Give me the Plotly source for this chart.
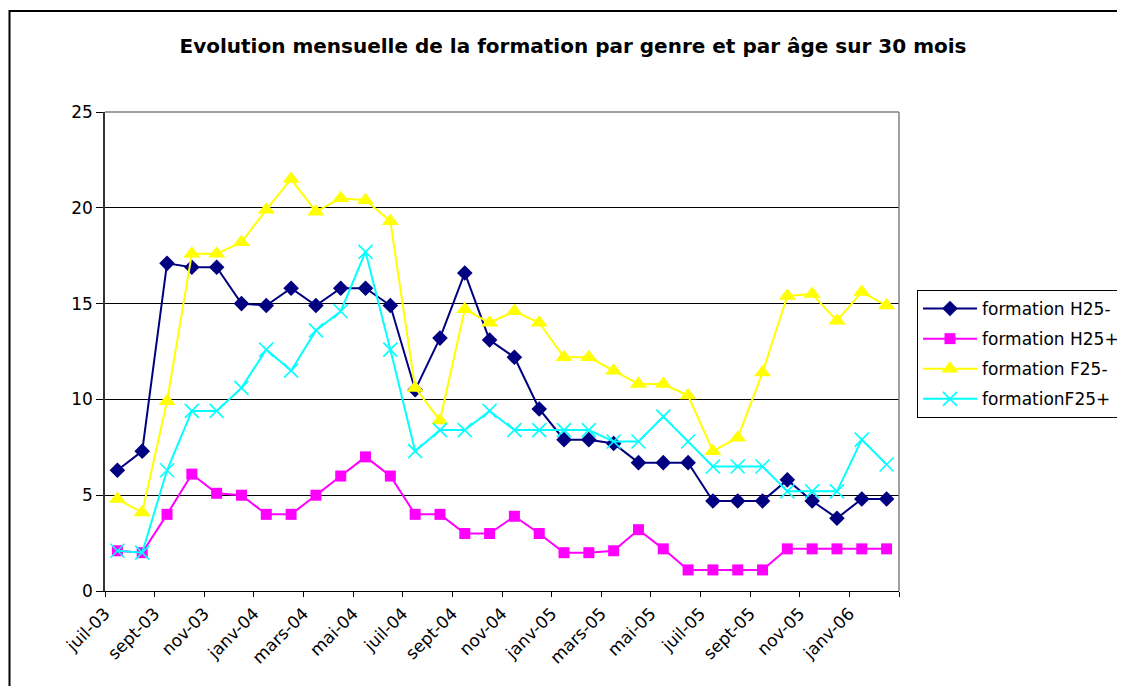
import plotly.graph_objects as go

months = ["juil-03", "août-03", "sept-03", "oct-03", "nov-03", "déc-03",
          "janv-04", "févr-04", "mars-04", "avr-04", "mai-04", "juin-04",
          "juil-04", "août-04", "sept-04", "oct-04", "nov-04", "déc-04",
          "janv-05", "févr-05", "mars-05", "avr-05", "mai-05", "juin-05",
          "juil-05", "août-05", "sept-05", "oct-05", "nov-05", "déc-05",
          "janv-06", "févr-06"]

h25_minus = [6.3, 7.3, 17.1, 16.9, 16.9, 15.0, 14.9, 15.8, 14.9, 15.8, 15.8, 14.9,
             10.5, 13.2, 16.6, 13.1, 12.2, 9.5, 7.9, 7.9, 7.7, 6.7, 6.7, 6.7,
             4.7, 4.7, 4.7, 5.8, 4.7, 3.8, 4.8, 4.8]
h25_plus = [2.1, 2.0, 4.0, 6.1, 5.1, 5.0, 4.0, 4.0, 5.0, 6.0, 7.0, 6.0,
            4.0, 4.0, 3.0, 3.0, 3.9, 3.0, 2.0, 2.0, 2.1, 3.2, 2.2, 1.1,
            1.1, 1.1, 1.1, 2.2, 2.2, 2.2, 2.2, 2.2]
f25_minus = [4.8, 4.1, 9.9, 17.6, 17.6, 18.2, 19.9, 21.5, 19.8, 20.5, 20.4, 19.3,
             10.6, 8.9, 14.7, 14.0, 14.6, 14.0, 12.2, 12.2, 11.5, 10.8, 10.8, 10.2,
             7.3, 8.0, 11.4, 15.4, 15.5, 14.1, 15.6, 14.9]
f25_plus = [2.1, 2.0, 6.3, 9.4, 9.4, 10.6, 12.6, 11.5, 13.6, 14.6, 17.7, 12.6,
            7.3, 8.4, 8.4, 9.4, 8.4, 8.4, 8.4, 8.4, 7.8, 7.8, 9.1, 7.8,
            6.5, 6.5, 6.5, 5.2, 5.2, 5.2, 7.9, 6.6]

series_names = ["formation H25-", "formation H25+", "formation F25-", "formationF25+"]
series_values = [h25_minus, h25_plus, f25_minus, f25_plus]
y_ticks = [0, 5, 10, 15, 20, 25]
title_text = "Evolution mensuelle de la formation par genre et par âge sur 30 mois"

colors = ["#000080", "#FF00FF", "#FFFF00", "#00FFFF"]
symbols = ["diamond", "square", "triangle-up", "x-thin"]
sizes = [12, 11, 15, 14]

FONT = "DejaVu Sans"

x_pos = [i + 0.5 for i in range(len(months))]

fig = go.Figure()
for k, (name, vals) in enumerate(zip(series_names, series_values)):
    marker = dict(symbol=symbols[k], size=sizes[k], color=colors[k])
    if symbols[k] == "x-thin":
        marker["line"] = dict(color=colors[k], width=1.6)
    else:
        marker["line"] = dict(width=0)
    fig.add_trace(go.Scatter(
        x=x_pos, y=vals, name=name, mode="lines+markers",
        line=dict(color=colors[k], width=2),
        marker=marker,
        hovertext=months, hoverinfo="text+y+name",
        legendgroup=name,
    ))

tickvals = list(range(0, len(months) + 1, 2))
ticktext = months[::2] + [""]

# page body has an 8px margin: work in screen pixels and convert
OFF = 8
W, H = 1125 - OFF, 686 - OFF
PX0, PX1, PY0, PY1 = 105, 899, 112, 591  # plot area in screen pixels
L, R, T, B = PX0 - OFF, W - (PX1 - OFF), PY0 - OFF, H - (PY1 - OFF)
pw, ph = W - L - R, H - T - B

def px_x(sx):
    return (sx - OFF - L) / pw

def px_y(sy):
    return (H - B - (sy - OFF)) / ph

fig.update_layout(
    width=W, height=H,
    margin=dict(l=L, r=R, t=T, b=B, pad=0, autoexpand=False),
    paper_bgcolor="white", plot_bgcolor="white",
    font=dict(family=FONT, size=17, color="black"),
    title=dict(text="<b>" + title_text + "</b>", font=dict(family=FONT, size=20, color="black"),
               x=px_x(573), xref="paper", xanchor="center",
               y=1 - (46 - OFF) / H, yref="container", yanchor="middle"),
    xaxis=dict(range=[0, len(months)], tickmode="array", tickvals=tickvals, ticktext=ticktext,
               tickangle=-45, showgrid=False, zeroline=False,
               showline=True, linecolor="black", linewidth=1,
               ticks="outside", ticklen=5, tickcolor="black", tickwidth=1,
               tickfont=dict(family=FONT, size=17, color="black")),
    yaxis=dict(range=[0, 25], tickmode="array", tickvals=y_ticks,
               showgrid=True, gridcolor="black", gridwidth=1, zeroline=False,
               showline=True, linecolor="#333333", linewidth=1.5,
               ticks="outside", ticklen=7, tickcolor="black", tickwidth=1,
               tickfont=dict(family=FONT, size=17, color="black")),
    legend=dict(x=(917 - OFF) / W, y=1 - (290 - OFF) / H, xref="container", yref="container",
                xanchor="left", yanchor="top",
                bgcolor="white", bordercolor="black", borderwidth=1,
                font=dict(family=FONT, size=17, color="black"),
                itemwidth=54, tracegroupgap=5, traceorder="grouped"),
    showlegend=True,
    shapes=[
        dict(type="line", xref="paper", yref="paper", x0=0, x1=1, y0=1, y1=1,
             line=dict(color="#808080", width=1.5), layer="above"),
        dict(type="line", xref="paper", yref="paper", x0=1, x1=1, y0=0, y1=1,
             line=dict(color="#808080", width=1.5), layer="above"),
        dict(type="rect", xref="paper", yref="paper",
             x0=px_x(9.5), x1=px_x(1160), y0=px_y(720), y1=px_y(11),
             line=dict(color="black", width=2), fillcolor="rgba(0,0,0,0)", layer="above"),
    ],
)

fig.write_html("out.html")
